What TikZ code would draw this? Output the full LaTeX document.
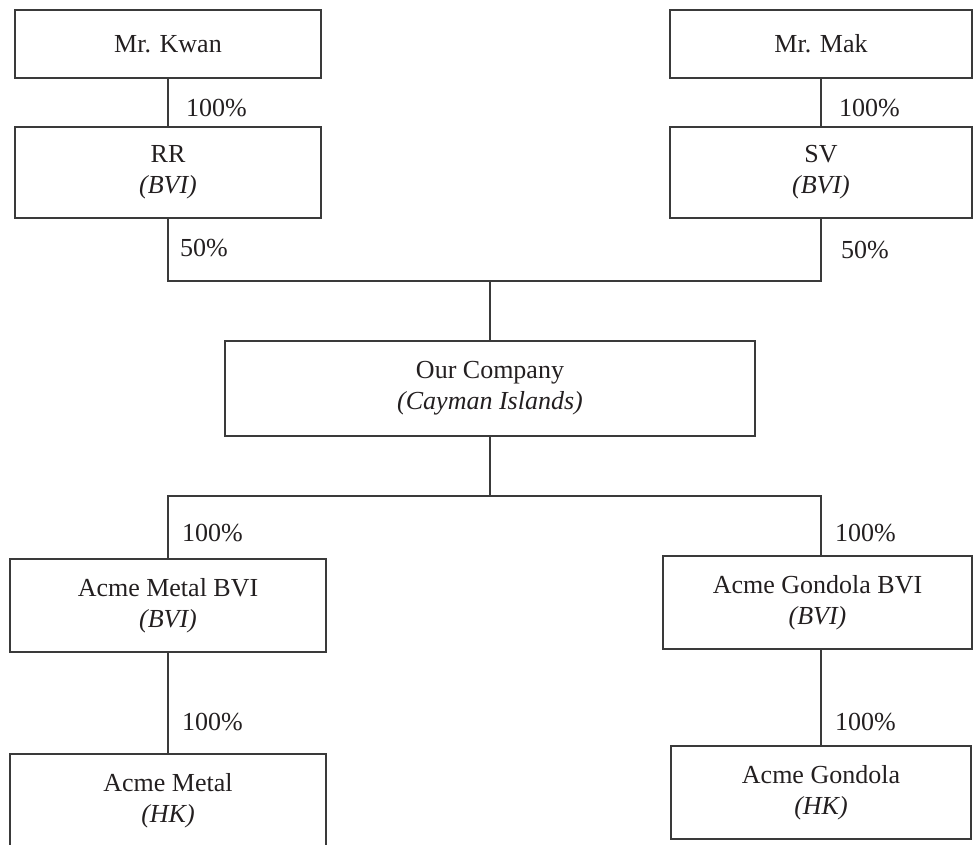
\documentclass[tikz,border=0pt]{standalone}
\usepackage{fontspec}
\setmainfont{Liberation Serif}
\definecolor{linec}{HTML}{3A3A3A}
\definecolor{textc}{HTML}{231F20}
\begin{document}
\begin{tikzpicture}[x=1pt,y=-1pt,
  box/.style={draw=linec, line width=1.2pt, inner sep=0pt, align=center,
    font=\fontsize{26}{31}\selectfont, text=textc},
  pct/.style={anchor=west, inner sep=0pt, font=\fontsize{26}{31}\selectfont, text=textc},
  conn/.style={draw=linec, line width=1.2pt}]
\useasboundingbox (0,0) rectangle (973,844);

% top owners
\node[box, minimum width=306pt, minimum height=68pt] (kwan) at (168,44) {Mr. Kwan};
\node[box, minimum width=302pt, minimum height=68pt] (mak) at (821,44) {Mr. Mak};
% BVI holding companies
\node[box, minimum width=306pt, minimum height=91pt] (rr) at (168,172.5) {RR\\\textit{(BVI)}};
\node[box, minimum width=302pt, minimum height=91pt] (sv) at (821,172.5) {SV\\\textit{(BVI)}};
% our company
\node[box, minimum width=530pt, minimum height=95pt] (our) at (490,388.5) {Our Company\\\textit{(Cayman Islands)}};
% subsidiaries
\node[box, minimum width=316pt, minimum height=93pt] (amb) at (168,605.5) {Acme Metal BVI\\\textit{(BVI)}};
\node[box, minimum width=309pt, minimum height=93pt] (agb) at (817.5,602.5) {Acme Gondola BVI\\\textit{(BVI)}};
\node[box, minimum width=316pt, minimum height=93pt] (am) at (168,800.5) {Acme Metal\\\textit{(HK)}};
\node[box, minimum width=300pt, minimum height=93pt] (ag) at (821,792.5) {Acme Gondola\\\textit{(HK)}};

% junctions
\coordinate (jt) at (490,281);
\coordinate (jb) at (490,496);

% connectors
\draw[conn] (kwan) -- (rr);
\draw[conn] (mak) -- (sv);
\draw[conn] (rr.south) |- (jt) -| (sv.south);
\draw[conn] (jt) -- (our.north);
\draw[conn] (our.south) -- (jb);
\draw[conn] (amb.north) |- (jb) -| (agb.north -| sv.south);
\draw[conn] (amb) -- (am);
\draw[conn] (agb.south -| ag.north) -- (ag.north);

% percentage labels
\node[pct] (p1) at (186,108) {100\%};
\node[pct] (p2) at (839,108) {100\%};
\node[pct] (p3) at (180,248) {50\%};
\node[pct] (p4) at (841,250) {50\%};
\node[pct] (p5) at (182,533) {100\%};
\node[pct] (p6) at (835,533) {100\%};
\node[pct] (p7) at (182,722) {100\%};
\node[pct] (p8) at (835,722) {100\%};
\end{tikzpicture}
\end{document}
